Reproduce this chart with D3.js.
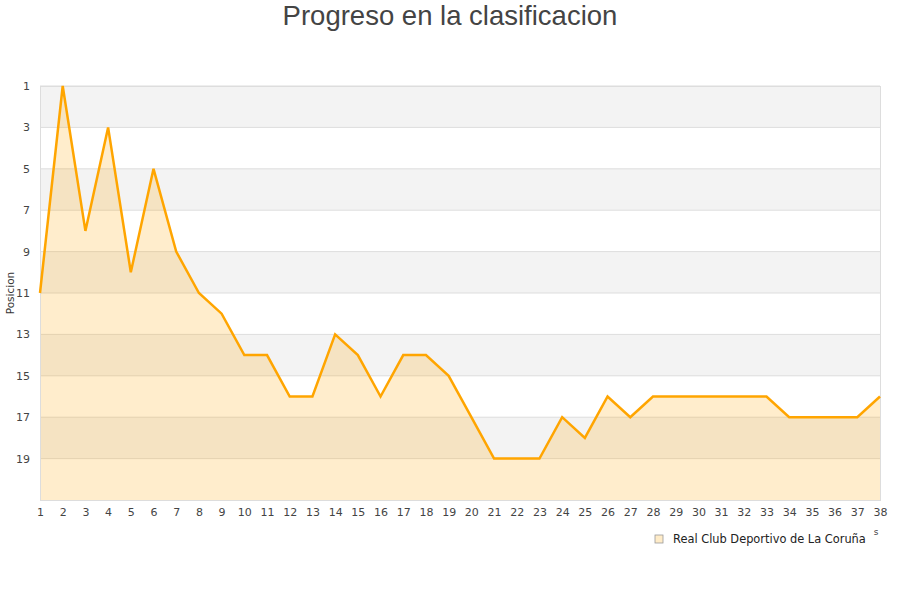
<!DOCTYPE html>
<html>
<head>
<meta charset="utf-8">
<script src="https://cdn.jsdelivr.net/npm/d3@7"></script>
<style>
  body { margin: 0; background: #fff; }
  svg { display: block; }
</style>
</head>
<body>
<svg id="chart" width="900" height="600"></svg>
<script>
// jornadas y posiciones
const rounds = d3.range(1, 39);
const positions = [11, 1, 8, 3, 10, 5, 9, 11, 12, 14,
                   14, 16, 16, 13, 14, 16, 14, 14, 15, 17,
                   19, 19, 19, 17, 18, 16, 17, 16, 16, 16,
                   16, 16, 16, 17, 17, 17, 17, 16];
const yTicks = [1, 3, 5, 7, 9, 11, 13, 15, 17, 19];
const bandStarts = [1, 5, 9, 13, 17];
const teamName = "Real Club Deportivo de La Coruña";

const data = rounds.map((r, i) => ({ round: r, pos: positions[i] }));

const svg = d3.select("#chart");
const mLeft = 40, mRight = 880, mTop = 86, mBottom = 500;

const x = d3.scaleLinear().domain([1, 38]).range([mLeft, mRight]);
const y = d3.scaleLinear().domain([1, 21]).range([mTop, mBottom]);

// title
svg.append("text")
  .attr("x", 450).attr("y", 25)
  .attr("text-anchor", "middle")
  .style("font-family", "Liberation Sans, Arial, sans-serif")
  .style("font-size", "27.5px")
  .style("fill", "#444")
  .text("Progreso en la clasificacion");

// alternating bands
svg.selectAll("rect.band")
  .data(bandStarts)
  .join("rect")
  .attr("class", "band")
  .attr("x", mLeft)
  .attr("y", d => y(d))
  .attr("width", mRight - mLeft)
  .attr("height", d => y(d + 2) - y(d))
  .style("fill", "#f3f3f3");

// gridlines
svg.selectAll("line.grid")
  .data(yTicks)
  .join("line")
  .attr("class", "grid")
  .attr("x1", mLeft).attr("x2", mRight)
  .attr("y1", d => y(d)).attr("y2", d => y(d))
  .style("stroke", "#dddddd")
  .style("stroke-width", 1);

// area
const area = d3.area()
  .x(d => x(d.round))
  .y0(y(21))
  .y1(d => y(d.pos));

svg.append("path")
  .datum(data)
  .attr("d", area)
  .style("fill", "orange")
  .style("fill-opacity", 0.2);

// plot border
svg.append("rect")
  .attr("x", mLeft + 0.5).attr("y", mTop + 0.5)
  .attr("width", mRight - mLeft).attr("height", mBottom - mTop)
  .style("fill", "none")
  .style("stroke", "#dddddd");

// line
const line = d3.line()
  .x(d => x(d.round))
  .y(d => y(d.pos));

svg.append("path")
  .datum(data)
  .attr("d", line)
  .style("fill", "none")
  .style("stroke", "#ffa500")
  .style("stroke-width", 2.5)
  .style("stroke-linejoin", "miter");

// axes
const yAxis = d3.axisLeft(y).tickValues(yTicks).tickSize(0).tickPadding(10);
svg.append("g")
  .attr("transform", `translate(${mLeft},0)`)
  .call(yAxis)
  .call(g => g.select(".domain").remove())
  .selectAll("text")
  .style("font-family", "DejaVu Sans, sans-serif")
  .style("font-size", "11px")
  .style("fill", "#444");

const xAxis = d3.axisBottom(x).tickValues(rounds).tickFormat(d3.format("d")).tickSize(0).tickPadding(8);
svg.append("g")
  .attr("transform", `translate(0,${mBottom})`)
  .call(xAxis)
  .call(g => g.select(".domain").remove())
  .selectAll("text")
  .style("font-family", "DejaVu Sans, sans-serif")
  .style("font-size", "11px")
  .style("fill", "#444");

// y axis title
svg.append("text")
  .attr("transform", "translate(14,293) rotate(-90)")
  .attr("text-anchor", "middle")
  .style("font-family", "DejaVu Sans, sans-serif")
  .style("font-size", "10.5px")
  .style("fill", "#333")
  .text("Posicion");

// clipped axis title remnant
svg.append("text")
  .attr("x", 876).attr("y", 535)
  .attr("text-anchor", "middle")
  .style("font-family", "DejaVu Sans, sans-serif")
  .style("font-size", "9px")
  .style("fill", "#444")
  .text("s");

// legend
const legend = svg.append("g").attr("transform", "translate(655,539)");
legend.append("rect")
  .attr("x", 0).attr("y", -4)
  .attr("width", 8).attr("height", 8)
  .style("fill", "#ffecc8")
  .style("stroke", "#999")
  .style("stroke-width", 0.8);
legend.append("text")
  .attr("x", 18).attr("y", 4)
  .style("font-family", "DejaVu Sans, sans-serif")
  .style("font-size", "11.4px")
  .style("fill", "#222")
  .text(teamName);
</script>
</body>
</html>
